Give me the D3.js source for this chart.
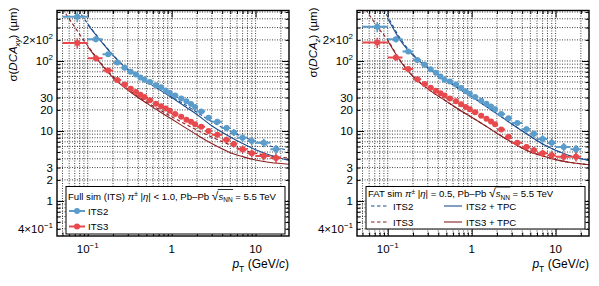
<!DOCTYPE html>
<html>
<head>
<meta charset="utf-8">
<script src="https://cdn.jsdelivr.net/npm/d3@7"></script>
<style>
body { margin: 0; background: #fff; }
text { font-family: "Liberation Sans", Arial, sans-serif; fill: #000; }
</style>
</head>
<body>
<svg id="chart" width="599" height="286"></svg>
<script>
// ---------- data ----------
var binLo  = [0.05,0.1,0.15,0.2,0.25,0.3,0.35,0.4,0.45,0.5,0.6,0.7,0.8,0.9,1.0,1.2,1.4,1.6,1.8,2,2.5,3,4,5,6,8,10,15];
var binHi  = [0.1,0.15,0.2,0.25,0.3,0.35,0.4,0.45,0.5,0.6,0.7,0.8,0.9,1.0,1.2,1.4,1.6,1.8,2,2.5,3,4,5,6,8,10,15,20];
var ptMean = [0.075,0.125,0.175,0.225,0.275,0.325,0.375,0.425,0.475,0.55,0.65,0.75,0.85,0.95,1.1,1.3,1.5,1.7,1.9,2.25,2.75,3.5,4.5,5.5,7,9,12.5,17.5];
// relative statistical error of each bin
var relErr = [0.17,0.1,0.06,0.05,0.04,0.04,0.04,0.04,0.04,0.04,0.04,0.04,0.04,0.04,0.04,0.04,0.05,0.05,0.05,0.06,0.07,0.08,0.1,0.11,0.12,0.13,0.14,0.15];

// full sim, DCA xy (um)
var xyITS2 = [430,205,125,95,80,70,64,58,54,50,45,42,38,35,32,29,26.5,24.3,22,19,15.5,13.5,11,9.5,8.0,7.2,6.8,5.5];
var xyITS3 = [180,109,73,53.5,46,40,36,33,30.5,27.5,24.5,22.5,21,19.5,17.5,16,14.5,13.5,12.5,11.5,10,8.8,7.5,6.5,5.5,4.8,4.4,4.1];
// full sim, DCA z (um)
var zITS2  = [309,204,136,103,88,76,68,60,54,51,46,41,37,34,30.5,27,24.5,22.3,20.5,17.5,15.2,13,10.6,9.1,7.7,6.8,5.9,5.5];
var zITS3  = [183,112,77,55,47,41.5,37.5,34.5,32,29,26.5,24,22,20.5,18.5,16.5,15,13.7,12.5,10.5,8.3,6.8,5.9,5.3,4.8,4.5,4.3,4.3];

// FAT curves
var linePt     = [0.05,0.06,0.07,0.08,0.1,0.125,0.15,0.2,0.3,0.5,0.7,1,1.5,2,3,5,7,10,15,25];
var xyITS2fat  = [null,null,640,500,340,240,183,122,76,52,40.5,31,23,18.5,13.5,9.9,8.3,7.1,6.1,5.3];
var xyITS2tpc  = [null,null,null,null,330,235,180,120,75,51,39.5,30,21.7,17.2,11.9,8.2,6.6,5.4,4.5,3.8];
var xyITS3fat  = [560,400,305,240,165,115,87,60,40,26,20.5,16,12.3,10.3,8.2,6.3,5.4,4.8,4.4,4.1];
var xyITS3tpc  = [null,null,null,null,160,112,85,58,38.5,25,19.3,14.8,10.9,8.8,6.6,4.9,4.3,3.85,3.55,3.35];
var zITS2fat   = [null,null,null,640,430,265,188,124,81,53,40.5,31,22.3,17.6,12.6,8.4,6.5,5.3,4.4,3.8];
var zITS2tpc   = [null,null,null,null,400,250,178,120,80,53,40.5,31,22.3,17.6,12.6,8.4,6.5,5.3,4.4,3.8];
var zITS3fat   = [640,460,350,280,200,128,92,61,40,26.5,20.3,15.7,11.6,9.3,6.9,5.0,4.4,3.9,3.55,3.3];
var zITS3tpc   = [null,null,null,null,195,125,90,60,40,26.5,20.3,15.7,11.6,9.3,6.9,5.0,4.4,3.9,3.55,3.3];

// axes
var xMajor = [0.1, 1, 10];
var xMinor = [0.05,0.06,0.07,0.08,0.09,0.2,0.3,0.4,0.5,0.6,0.7,0.8,0.9,2,3,4,5,6,7,8,9,20];
var xLabelBase = ["10", "1", "10"];
var xLabelExp  = ["\u22121", "", ""];
var yMajor = [1, 10, 100];
var yMinor = [0.4,0.5,0.6,0.7,0.8,0.9,2,3,4,5,6,7,8,9,20,30,40,50,60,70,80,90,200,300,400,500];
var yLabelVals = [0.4, 1, 2, 3, 10, 20, 30, 100, 200];
var yLabelBase = ["4\u00d710", "1", "2", "3", "10", "20", "30", "10", "2\u00d710"];
var yLabelExp  = ["\u22121", "", "", "", "", "", "", "2", "2"];

var cBlue = "#5a9ccb", cRed = "#e8494d", cDarkBlue = "#1d4f8f", cDarkRed = "#8c1f22";

var svg = d3.select("#chart");
var plotTop = 10.5, plotBottom = 236, plotW = 232;

function drawPanel(p) {
  var g = svg.append("g");
  var x = d3.scaleLog().domain([0.043, 25]).range([p.left, p.left + plotW]);
  var y = d3.scaleLog().domain([0.316, 526]).range([plotBottom, plotTop]);

  g.append("clipPath").attr("id", "clip" + p.id)
    .append("rect").attr("x", p.left).attr("y", plotTop)
    .attr("width", plotW).attr("height", plotBottom - plotTop);

  // dotted grid
  var grid = g.append("g").attr("stroke", "#111").attr("stroke-width", 0.8)
    .attr("stroke-dasharray", "1,1.5");
  grid.selectAll(".gx").data(xMajor.concat(xMinor)).join("line")
    .attr("x1", d => x(d)).attr("x2", d => x(d))
    .attr("y1", plotTop).attr("y2", plotBottom);
  grid.selectAll(".gy").data(yMajor.concat(yMinor)).join("line")
    .attr("y1", d => y(d)).attr("y2", d => y(d))
    .attr("x1", p.left).attr("x2", p.left + plotW);

  // ticks on all four sides, pointing inward
  function ticks(axis, vals, len, tr) {
    var a = g.append("g").attr("transform", tr)
      .call(axis.tickValues(vals).tickSize(-len).tickFormat(""));
    a.select(".domain").remove();
    a.selectAll("line").attr("stroke", "#000").attr("stroke-width", 1);
  }
  ticks(d3.axisBottom(x), xMajor, 7, "translate(0," + plotBottom + ")");
  ticks(d3.axisBottom(x), xMinor, 3.5, "translate(0," + plotBottom + ")");
  ticks(d3.axisTop(x), xMajor, 7, "translate(0," + plotTop + ")");
  ticks(d3.axisTop(x), xMinor, 3.5, "translate(0," + plotTop + ")");
  ticks(d3.axisLeft(y), yMajor, 7, "translate(" + p.left + ",0)");
  ticks(d3.axisLeft(y), yMinor, 3.5, "translate(" + p.left + ",0)");
  ticks(d3.axisRight(y), yMajor, 7, "translate(" + (p.left + plotW) + ",0)");
  ticks(d3.axisRight(y), yMinor, 3.5, "translate(" + (p.left + plotW) + ",0)");

  // tick labels
  xMajor.forEach(function (v, i) {
    var t = g.append("text").attr("x", x(v)).attr("y", 253)
      .attr("text-anchor", "middle").attr("font-size", 11.5);
    t.append("tspan").text(xLabelBase[i]);
    if (xLabelExp[i]) t.append("tspan").attr("dy", -5).attr("font-size", 8).text(xLabelExp[i]);
  });
  yLabelVals.forEach(function (v, i) {
    var t = g.append("text").attr("x", p.left - 4).attr("y", y(v) + 4)
      .attr("text-anchor", "end").attr("font-size", 11.5);
    t.append("tspan").text(yLabelBase[i]);
    if (yLabelExp[i]) t.append("tspan").attr("dy", -5).attr("font-size", 8).text(yLabelExp[i]);
  });

  // axis titles
  var yt = g.append("text").attr("text-anchor", "end").attr("font-size", 11.5)
    .attr("transform", "translate(" + (p.left - 40) + "," + (plotTop - 3) + ") rotate(-90)");
  yt.append("tspan").text("\u03c3(");
  yt.append("tspan").attr("font-style", "italic").text("DCA");
  yt.append("tspan").attr("font-style", "italic").attr("font-size", 8).attr("dy", 3).text(p.sub);
  yt.append("tspan").attr("dy", -3).text(") (\u00b5m)");

  var xt = g.append("text").attr("x", p.left + plotW).attr("y", 268)
    .attr("text-anchor", "end").attr("font-size", 12);
  xt.append("tspan").attr("font-style", "italic").text("p");
  xt.append("tspan").attr("font-size", 8.5).attr("dy", 4).text("T");
  xt.append("tspan").attr("dy", -4).text(" (GeV/");
  xt.append("tspan").attr("font-style", "italic").text("c");
  xt.append("tspan").text(")");

  // curves
  var plot = g.append("g").attr("clip-path", "url(#clip" + p.id + ")");
  var line = d3.line()
    .defined(d => d[1] != null)
    .x(d => x(d[0])).y(d => y(d[1]))
    .curve(d3.curveMonotoneX);
  p.curves.forEach(function (c) {
    plot.append("path")
      .datum(linePt.map((v, i) => [v, c.vals[i]]))
      .attr("fill", "none").attr("stroke", c.color).attr("stroke-width", 1.1)
      .attr("stroke-dasharray", c.dash ? "3.5,2.5" : null)
      .attr("d", line);
  });

  // points with bin-width bars and error bars
  p.series.forEach(function (s) {
    var pts = ptMean.map((v, i) => ({ pt: v, lo: binLo[i], hi: binHi[i], val: s.vals[i], err: relErr[i] }));
    var sg = plot.append("g");
    sg.selectAll(".hb").data(pts).join("line")
      .attr("x1", d => x(d.lo)).attr("x2", d => x(d.hi))
      .attr("y1", d => y(d.val)).attr("y2", d => y(d.val))
      .attr("stroke", s.color).attr("stroke-width", 2);
    sg.selectAll(".vb").data(pts).join("line")
      .attr("x1", d => x(d.pt)).attr("x2", d => x(d.pt))
      .attr("y1", d => y(d.val * (1 - d.err))).attr("y2", d => y(d.val * (1 + d.err)))
      .attr("stroke", s.color).attr("stroke-width", 1.6);
    sg.selectAll("circle").data(pts).join("circle")
      .attr("cx", d => x(d.pt)).attr("cy", d => y(d.val)).attr("r", 3)
      .attr("fill", s.color);
  });

  // frame
  g.append("rect").attr("x", p.left).attr("y", plotTop)
    .attr("width", plotW).attr("height", plotBottom - plotTop)
    .attr("fill", "none").attr("stroke", "#000").attr("stroke-width", 1.4);

  // legend
  var lg = g.append("g");
  lg.append("rect").attr("x", p.left + 9).attr("y", 186.5)
    .attr("width", 219).attr("height", p.legH)
    .attr("fill", "#fff").attr("stroke", "#000").attr("stroke-width", 1);
  var tt = lg.append("text").attr("x", p.left + 11).attr("y", p.titleY).attr("font-size", 9.6);
  tt.append("tspan").text(p.title);
  tt.append("tspan").attr("font-style", "italic").text("\u03c0");
  tt.append("tspan").attr("font-size", 6.5).attr("dy", -3.5).text("\u00b1");
  tt.append("tspan").attr("dy", 3.5).text(" |");
  tt.append("tspan").attr("font-style", "italic").text("\u03b7");
  tt.append("tspan").text("| " + p.eta + ", Pb\u2013Pb ");
  tt.append("tspan").attr("font-size", 12).text("\u221a");
  tt.append("tspan").attr("font-style", "italic").text("s");
  tt.append("tspan").attr("font-size", 6.5).attr("dy", 2.5).text("NN");
  tt.append("tspan").attr("dy", -2.5).text(" = 5.5 TeV");
  // overline of the square root
  var full = tt.text();
  var iRoot = full.indexOf("\u221a"), iEnd = full.indexOf("NN") + 1;
  var node = tt.node();
  var x0 = node.getEndPositionOfChar(iRoot).x - 0.6, x1 = node.getEndPositionOfChar(iEnd).x + 0.5;
  lg.append("line").attr("x1", x0).attr("x2", x1).attr("y1", p.titleY - 10).attr("y2", p.titleY - 10)
    .attr("stroke", "#000").attr("stroke-width", 0.8);

  p.entries.forEach(function (e) {
    if (e.marker) {
      lg.append("line").attr("x1", e.x).attr("x2", e.x + 16).attr("y1", e.y).attr("y2", e.y)
        .attr("stroke", e.color).attr("stroke-width", 2);
      lg.append("circle").attr("cx", e.x + 8).attr("cy", e.y).attr("r", 3).attr("fill", e.color);
      lg.append("text").attr("x", e.x + 19).attr("y", e.y + 3.5).attr("font-size", 9.6).text(e.label);
    } else {
      lg.append("line").attr("x1", e.x).attr("x2", e.x + 18).attr("y1", e.y).attr("y2", e.y)
        .attr("stroke", e.color).attr("stroke-width", 1.1)
        .attr("stroke-dasharray", e.dash ? "3.5,2.5" : null);
      lg.append("text").attr("x", e.x + 22).attr("y", e.y + 3.5).attr("font-size", 9.6).text(e.label);
    }
  });
}

drawPanel({
  id: "L", left: 57, sub: "xy", title: "Full sim (ITS) ", eta: "< 1.0",
  legH: 47.5, titleY: 199.5,
  series: [{ vals: xyITS2, color: cBlue }, { vals: xyITS3, color: cRed }],
  curves: [
    { vals: xyITS2fat, color: cDarkBlue, dash: true },
    { vals: xyITS3fat, color: cDarkRed, dash: true },
    { vals: xyITS2tpc, color: cDarkBlue, dash: false },
    { vals: xyITS3tpc, color: cDarkRed, dash: false }
  ],
  entries: [
    { marker: true, x: 69, y: 211, color: cBlue, label: "ITS2" },
    { marker: true, x: 69, y: 226.5, color: cRed, label: "ITS3" }
  ]
});

drawPanel({
  id: "R", left: 357, sub: "z", title: "FAT sim ", eta: "= 0.5",
  legH: 42.5, titleY: 197,
  series: [{ vals: zITS2, color: cBlue }, { vals: zITS3, color: cRed }],
  curves: [
    { vals: zITS2fat, color: cDarkBlue, dash: true },
    { vals: zITS3fat, color: cDarkRed, dash: true },
    { vals: zITS2tpc, color: cDarkBlue, dash: false },
    { vals: zITS3tpc, color: cDarkRed, dash: false }
  ],
  entries: [
    { marker: false, dash: true, x: 371, y: 206, color: cDarkBlue, label: "ITS2" },
    { marker: false, dash: true, x: 371, y: 222, color: cDarkRed, label: "ITS3" },
    { marker: false, dash: false, x: 444, y: 206, color: cDarkBlue, label: "ITS2 + TPC" },
    { marker: false, dash: false, x: 444, y: 222, color: cDarkRed, label: "ITS3 + TPC" }
  ]
});
</script>
</body>
</html>
